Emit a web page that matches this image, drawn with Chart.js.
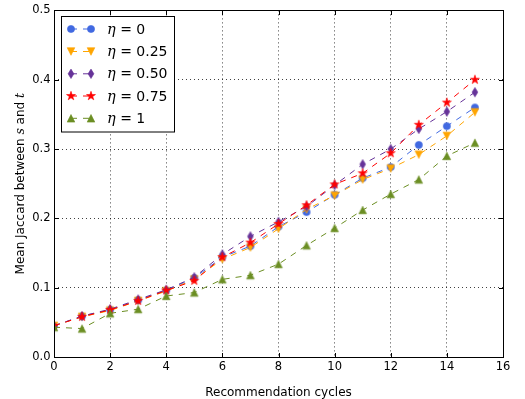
<!DOCTYPE html>
<html>
<head>
<meta charset="utf-8">
<script src="https://cdn.jsdelivr.net/npm/chart.js@4/dist/chart.umd.min.js"></script>
<style>
html,body{margin:0;padding:0;background:#fff;}
canvas{display:block;}
</style>
</head>
<body>
<canvas id="c" width="525" height="399"></canvas>
<script>
// ---- data ----
const cycles = [0,1,2,3,4,5,6,7,8,9,10,11,12,13,14,15];
const eta0   = [0.045,0.059,0.068,0.082,0.096,0.114,0.144,0.160,0.188,0.209,0.234,0.258,0.274,0.306,0.333,0.360];
const eta025 = [0.045,0.058,0.067,0.081,0.095,0.112,0.141,0.158,0.185,0.213,0.233,0.256,0.272,0.292,0.319,0.353];
const eta050 = [0.045,0.059,0.069,0.083,0.097,0.115,0.148,0.174,0.195,0.217,0.248,0.278,0.300,0.329,0.354,0.382];
const eta075 = [0.045,0.058,0.068,0.081,0.096,0.110,0.144,0.165,0.192,0.219,0.249,0.265,0.294,0.335,0.367,0.400];
const eta1   = [0.043,0.041,0.063,0.069,0.088,0.093,0.112,0.118,0.134,0.161,0.186,0.212,0.235,0.256,0.290,0.309];
const etaLabels = ['0','0.25','0.50','0.75','1'];
const xTicks = [0,2,4,6,8,10,12,14,16];
const yTicks = [0.0,0.1,0.2,0.3,0.4,0.5];
const xTitle = 'Recommendation cycles';
const yTitleParts = [['Mean Jaccard between ',false],['s',true],[' and ',false],['t',true]];

const seriesValues = [eta0, eta025, eta050, eta075, eta1];
const colors = ['#4169E1','#FFA500','#663399','#FF0000','#6B8E23'];
const shapes = ['circle','tdown','thin','star','tup'];

const SANS = '"DejaVu Sans", sans-serif';
const FS = 11.5;      // tick labels
const FT = 12;        // axis titles
const FL = 14;        // legend

function drawMarker(ctx, shape, color, cx, cy){
  ctx.save();
  ctx.fillStyle = color; ctx.strokeStyle = color; ctx.lineWidth = 0.6; ctx.setLineDash([]);
  ctx.beginPath();
  if (shape === 'circle') {
    ctx.arc(cx, cy, 3.6, 0, Math.PI*2);
  } else if (shape === 'tdown') {
    const h = 3.8;
    ctx.moveTo(cx, cy+h); ctx.lineTo(cx-h, cy-h); ctx.lineTo(cx+h, cy-h); ctx.closePath();
  } else if (shape === 'tup') {
    const h = 3.8;
    ctx.moveTo(cx, cy-h); ctx.lineTo(cx-h, cy+h); ctx.lineTo(cx+h, cy+h); ctx.closePath();
  } else if (shape === 'thin') {
    ctx.moveTo(cx, cy-4.7); ctx.lineTo(cx+2.9, cy); ctx.lineTo(cx, cy+4.7); ctx.lineTo(cx-2.9, cy); ctx.closePath();
  } else if (shape === 'star') {
    const R = 4.7, r = R*0.382;
    for (let i=0;i<10;i++){
      const a = -Math.PI/2 + i*Math.PI/5;
      const rr = i%2===0 ? R : r;
      const px = cx + rr*Math.cos(a), py = cy + rr*Math.sin(a);
      if (i===0) ctx.moveTo(px,py); else ctx.lineTo(px,py);
    }
    ctx.closePath();
  }
  ctx.fill(); ctx.stroke();
  ctx.restore();
}
function makeMarker(shape, color){
  const c = document.createElement('canvas');
  c.width = 12; c.height = 12;
  drawMarker(c.getContext('2d'), shape, color, 6, 6);
  return c;
}

const datasets = seriesValues.map((vals, i) => ({
  label: 'η = ' + etaLabels[i],
  data: cycles.map((c, j) => ({x: c, y: vals[j]})),
  borderColor: colors[i],
  backgroundColor: colors[i],
  borderWidth: 1,
  borderDash: [6,6],
  pointStyle: makeMarker(shapes[i], colors[i]),
  pointRadius: 4,
  pointHoverRadius: 4,
  tension: 0,
  fill: false,
  order: seriesValues.length - i
}));

const px = v => Math.round(v) + 0.5;

const decor = {
  id: 'decor',
  afterDraw(chart){
    const {ctx, chartArea: a, scales: {x, y}} = chart;
    ctx.save();
    ctx.strokeStyle = '#000'; ctx.lineWidth = 1; ctx.setLineDash([]);
    const L = px(a.left), R = px(a.right), T = px(a.top), B = px(a.bottom);
    ctx.beginPath();
    xTicks.forEach(v => {
      const p = px(x.getPixelForValue(v));
      ctx.moveTo(p, B); ctx.lineTo(p, B-4.5);
      ctx.moveTo(p, T); ctx.lineTo(p, T+4.5);
    });
    yTicks.forEach(v => {
      const p = px(y.getPixelForValue(v));
      ctx.moveTo(L, p); ctx.lineTo(L+4.5, p);
      ctx.moveTo(R, p); ctx.lineTo(R-4.5, p);
    });
    ctx.stroke();
    ctx.strokeRect(L, T, R-L, B-T);

    // y title
    ctx.save();
    ctx.translate(23.5, (a.top + a.bottom)/2);
    ctx.rotate(-Math.PI/2);
    ctx.fillStyle = '#000'; ctx.textBaseline = 'alphabetic'; ctx.textAlign = 'left';
    const fontFor = it => it ? ('italic ' + (FT+0.5) + 'px "DejaVu Serif", serif') : (FT + 'px ' + SANS);
    let total = 0;
    yTitleParts.forEach(([t, it]) => { ctx.font = fontFor(it); total += ctx.measureText(t).width; });
    let cx = -total/2;
    yTitleParts.forEach(([t, it]) => { ctx.font = fontFor(it); ctx.fillText(t, cx, 0); cx += ctx.measureText(t).width; });
    ctx.restore();

    // legend
    const lx = 61.5, ly = 16.5, lw = 113, lh = 115.5;
    ctx.fillStyle = '#fff';
    ctx.fillRect(lx, ly, lw, lh);
    ctx.strokeRect(lx, ly, lw, lh);
    const rowY = [29, 51.5, 73.8, 96, 118.3];
    seriesValues.forEach((_, i) => {
      const yy = rowY[i];
      ctx.save();
      ctx.strokeStyle = colors[i]; ctx.lineWidth = 1; ctx.setLineDash([6,6]);
      ctx.beginPath(); ctx.moveTo(71, yy); ctx.lineTo(91, yy); ctx.stroke();
      ctx.restore();
      drawMarker(ctx, shapes[i], colors[i], 71, yy);
      drawMarker(ctx, shapes[i], colors[i], 91, yy);
      ctx.fillStyle = '#000'; ctx.textBaseline = 'alphabetic'; ctx.textAlign = 'left';
      ctx.font = 'italic ' + (FL+0.5) + 'px "DejaVu Serif", serif';
      ctx.fillText('η', 107, yy + 4.5);
      const w = ctx.measureText('η').width;
      ctx.font = FL + 'px ' + SANS;
      ctx.fillText(' = ' + etaLabels[i], 107 + w, yy + 4.5);
    });
    ctx.restore();
  }
};

const tickFont = {family: SANS, size: FS};
new Chart(document.getElementById('c'), {
  type: 'line',
  data: { datasets },
  options: {
    responsive: false,
    animation: false,
    devicePixelRatio: 1,
    layout: { padding: { top: 10, right: 22, left: 0, bottom: 0 } },
    plugins: { legend: { display: false }, tooltip: { enabled: false } },
    events: [],
    scales: {
      x: {
        type: 'linear', min: 0, max: 16,
        afterBuildTicks: s => { s.ticks = xTicks.map(v => ({value: v})); },
        ticks: { color: '#000', font: tickFont, padding: 3, maxRotation: 0, callback: v => String(v) },
        grid: { color: 'rgba(0,0,0,0.75)', lineWidth: 1, drawTicks: false },
        border: { display: false, dash: [1,3] },
        title: { display: true, text: xTitle, color: '#000', font: {family: SANS, size: FT, lineHeight: 1}, padding: {top: 0, bottom: 0} },
        afterFit: s => { s.height = 42; }
      },
      y: {
        min: 0, max: 0.5,
        afterBuildTicks: s => { s.ticks = yTicks.map(v => ({value: v})); },
        ticks: { color: '#000', font: tickFont, padding: 3.5, callback: v => Number(v).toFixed(1) },
        grid: { color: 'rgba(0,0,0,0.75)', lineWidth: 1, drawTicks: false },
        border: { display: false, dash: [1,3] },
        afterFit: s => { s.width = 54; }
      }
    }
  },
  plugins: [decor]
});
</script>
</body>
</html>
